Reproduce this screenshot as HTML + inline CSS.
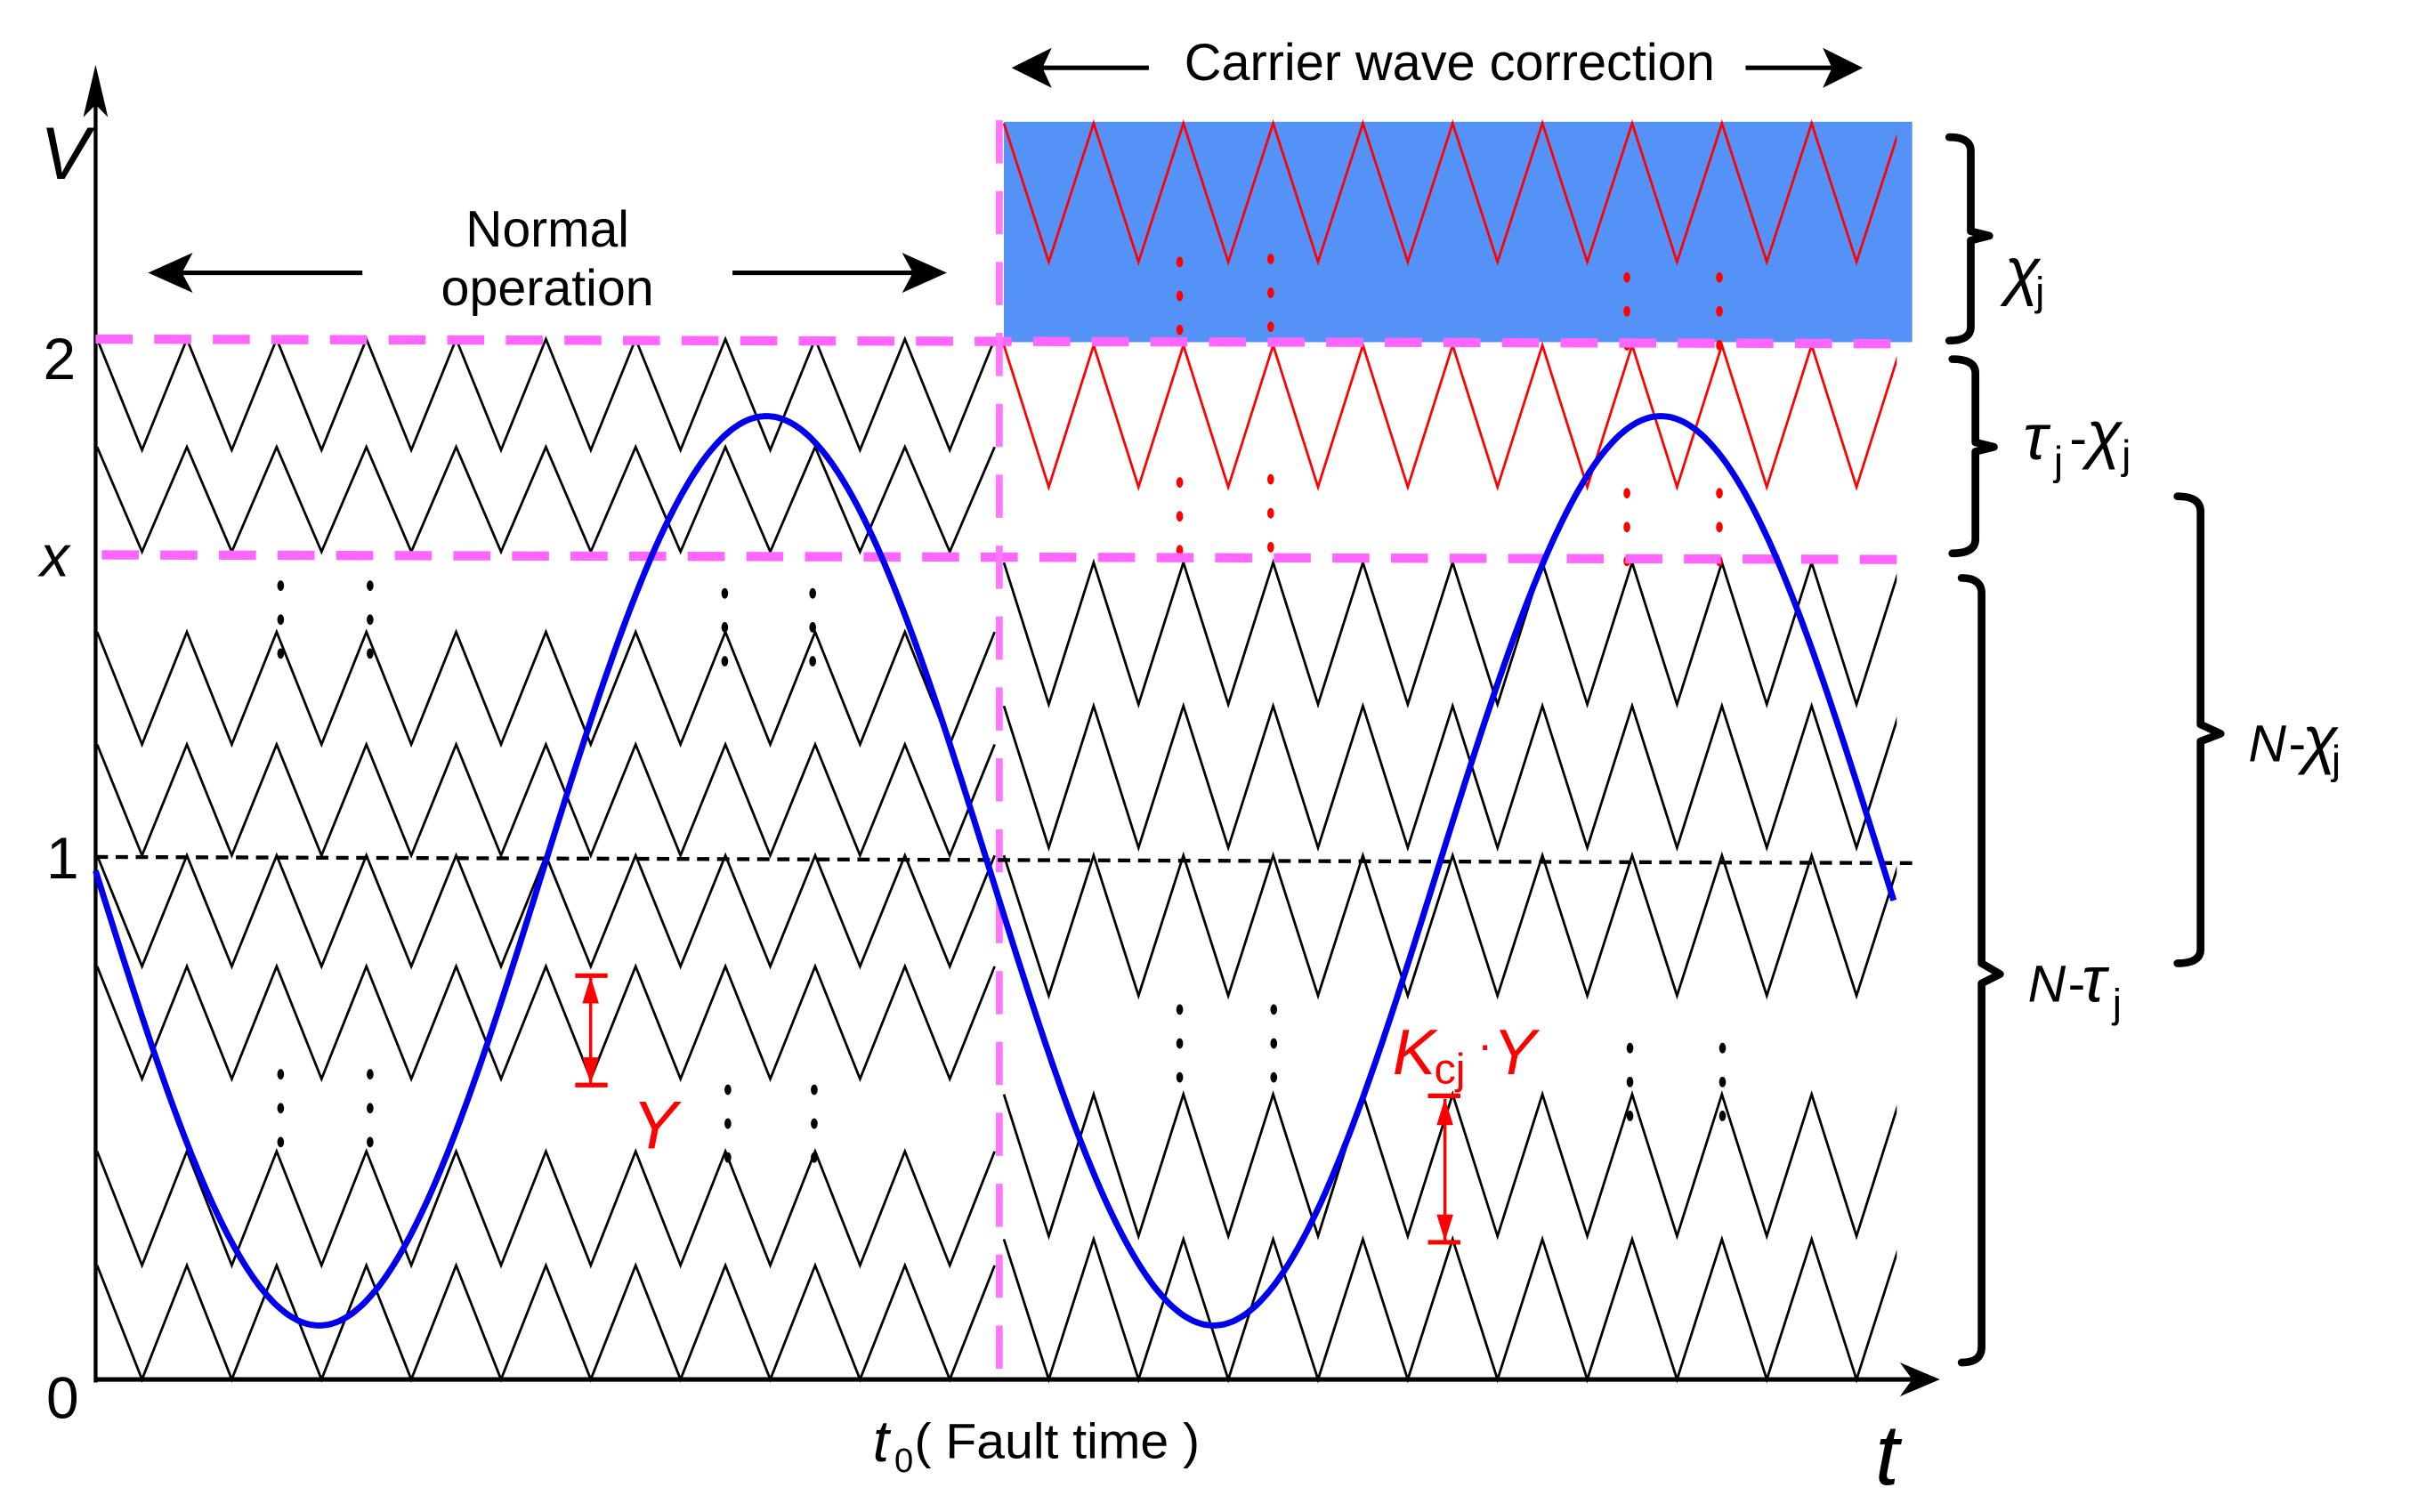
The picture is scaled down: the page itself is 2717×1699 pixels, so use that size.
<!DOCTYPE html>
<html><head><meta charset="utf-8">
<style>
html,body{margin:0;padding:0;background:#fff;}
svg{display:block;}
text{font-family:"Liberation Sans",sans-serif;}
</style></head>
<body>
<svg id="s" width="2717" height="1699" viewBox="0 0 1568 981" preserveAspectRatio="none" xmlns="http://www.w3.org/2000/svg">
<defs><clipPath id="cr"><rect x="640" y="0" width="590" height="981"/></clipPath></defs>
<rect x="0" y="0" width="1568" height="981" fill="#fff"/>
<rect x="651" y="79" width="589" height="143" fill="#5592f7"/>
<g id="waves" fill="none" stroke-width="1.6" stroke-linejoin="miter"></g>
<g id="wavesR" fill="none" stroke-width="1.6" stroke-linejoin="miter" clip-path="url(#cr)"></g>
<g id="dots"></g>
<line x1="62" y1="55" x2="62" y2="897" stroke="#000" stroke-width="2.5"/>
<polygon points="62,42 54,76 62,68 70,76" fill="#000"/>
<line x1="62" y1="895" x2="1245" y2="895" stroke="#000" stroke-width="3"/>
<polygon points="1258,895 1232,884 1240,895 1232,906" fill="#000"/>
<line x1="62" y1="220" x2="1240" y2="223" stroke="#ff66ff" stroke-width="6" stroke-dasharray="24,14"/>
<line x1="66" y1="360" x2="1240" y2="363" stroke="#ff66ff" stroke-width="6" stroke-dasharray="24,14"/>
<line x1="648" y1="78" x2="648" y2="895" stroke="#ff77ff" stroke-width="4.5" stroke-dasharray="28,18"/>
<line x1="62" y1="556" x2="1240" y2="560" stroke="#000" stroke-width="2.5" stroke-dasharray="8,5"/>
<path id="sine" fill="none" stroke="#0000ee" stroke-width="4"/>
<text x="26" y="116" font-size="48" font-style="italic">V</text>
<text x="28" y="246" font-size="38">2</text>
<text x="26" y="374" font-size="38" font-style="italic">x</text>
<text x="30" y="570" font-size="38">1</text>
<text x="30" y="920" font-size="38">0</text>
<text x="1216" y="963" font-size="56" font-style="italic">t</text>
<text x="566" y="948" font-size="38" font-style="italic">t</text>
<text x="580" y="955" font-size="22">0</text>
<text x="593" y="946" font-size="32" textLength="185" lengthAdjust="spacingAndGlyphs">( Fault time )</text>
<text x="355" y="160" font-size="33" text-anchor="middle" textLength="106" lengthAdjust="spacingAndGlyphs">Normal</text>
<text x="355" y="198" font-size="33" text-anchor="middle" textLength="138" lengthAdjust="spacingAndGlyphs">operation</text>
<line x1="110" y1="177" x2="235" y2="177" stroke="#000" stroke-width="3"/>
<polygon points="96,177 125,164 118,177 125,190" fill="#000"/>
<line x1="475" y1="177" x2="600" y2="177" stroke="#000" stroke-width="3"/>
<polygon points="614,177 585,164 592,177 585,190" fill="#000"/>
<text x="768" y="52" font-size="34" textLength="344" lengthAdjust="spacingAndGlyphs">Carrier wave correction</text>
<line x1="670" y1="44" x2="745" y2="44" stroke="#000" stroke-width="3"/>
<polygon points="656,44 682,31 676,44 682,57" fill="#000"/>
<line x1="1132" y1="44" x2="1195" y2="44" stroke="#000" stroke-width="3"/>
<polygon points="1208,44 1182,31 1188,44 1182,57" fill="#000"/>
<g stroke="#ff0000" stroke-width="2" fill="#ff0000">
<line x1="383" y1="634" x2="383" y2="703"/>
<line x1="373" y1="633" x2="394" y2="633" stroke-width="3"/>
<line x1="373" y1="704" x2="394" y2="704" stroke-width="3"/>
<polygon points="383,637 379,650 387,650"/>
<polygon points="383,700 379,687 387,687"/>
<line x1="937" y1="713" x2="937" y2="805"/>
<line x1="926" y1="711" x2="947" y2="711" stroke-width="3"/>
<line x1="926" y1="806" x2="947" y2="806" stroke-width="3"/>
<polygon points="937,716 933,729 941,729"/>
<polygon points="937,802 933,789 941,789"/>
</g>
<text x="410" y="745" font-size="44" font-style="italic" fill="#ff0000">Y</text>
<text x="903" y="697" font-size="42" font-style="italic" fill="#ff0000">K</text>
<text x="930" y="703" font-size="28" fill="#ff0000">cj</text>
<text x="958" y="688" font-size="30" fill="#ff0000">·</text>
<text x="968" y="697" font-size="42" font-style="italic" fill="#ff0000">Y</text>
<g fill="none" stroke="#000" stroke-width="5" stroke-linejoin="round" stroke-linecap="round">
<path d="M1264,89 Q1278,89 1278,98 L1278,150 L1290,153 L1278,156 L1278,212 Q1278,221 1264,221"/>
<path d="M1266,233 Q1281,233 1281,242 L1281,287 L1293,290 L1281,293 L1281,350 Q1281,359 1266,359"/>
<path d="M1272,375 Q1285,375 1285,385 L1285,625 L1297,632 L1285,638 L1285,874 Q1285,884 1272,884"/>
<path d="M1412,322 Q1427,322 1427,332 L1427,470 L1440,476 L1427,481 L1427,616 Q1427,625 1412,625"/>
</g>
<g font-family="Liberation Serif,serif" font-style="italic">
<text x="1300" y="190" font-size="42">χ</text>
<text x="1320" y="198" font-size="26" font-style="normal">j</text>
<text x="1312" y="298" font-size="42">τ</text>
<text x="1332" y="308" font-size="26" font-style="normal">j</text>
<text x="1342" y="296" font-size="34" font-style="normal">-</text>
<text x="1353" y="296" font-size="42">χ</text>
<text x="1376" y="304" font-size="26" font-style="normal">j</text>
<text x="1458" y="494" font-size="34" font-family="Liberation Sans,sans-serif">N</text>
<text x="1484" y="494" font-size="34" font-style="normal">-</text>
<text x="1493" y="494" font-size="42">χ</text>
<text x="1512" y="502" font-size="26" font-style="normal">j</text>
<text x="1315" y="650" font-size="34" font-family="Liberation Sans,sans-serif">N</text>
<text x="1341" y="650" font-size="34" font-style="normal">-</text>
<text x="1350" y="650" font-size="42">τ</text>
<text x="1370" y="660" font-size="26" font-style="normal">j</text>
</g>
</svg>
<script>
(function(){
var NS="http://www.w3.org/2000/svg";
var g=document.getElementById('waves');
var gR=document.getElementById('wavesR');
function row(tg,x0,x1,yp,yv,startPeak,col){
  var pts=[];var half=29.1;var x=x0;var peak=startPeak;
  while(x<=x1+0.1){pts.push(x.toFixed(1)+','+(peak?yp:yv));x+=half;peak=!peak;}
  var p=document.createElementNS(NS,'polyline');
  p.setAttribute('points',pts.join(' '));p.setAttribute('stroke',col);
  tg.appendChild(p);
}
var L=[[220,292],[290,358],[410,483],[483,555],[555,627],[627,700],[747,821],[821,895]];
L.forEach(function(r){row(g,63,645,r[0],r[1],true,'#000');});
var Rr=[[80,170],[224,316]];
Rr.forEach(function(r){row(gR,651,1240,r[0],r[1],true,'#ff0000');});
var Rb=[[365,457],[458,550],[555,646],[710,802],[804,895]];
Rb.forEach(function(r){row(gR,651,1240,r[0],r[1],true,'#000');});
var d=document.getElementById('dots');
function dots(x,ys,col){ys.forEach(function(y){var c=document.createElementNS(NS,'ellipse');c.setAttribute('cx',x);c.setAttribute('cy',y);c.setAttribute('rx',2.2);c.setAttribute('ry',3.4);c.setAttribute('fill',col);d.appendChild(c);});}
dots(182,[380,402,424],'#000');dots(240,[380,402,424],'#000');
dots(470,[385,407,429],'#000');dots(527,[385,407,429],'#000');
dots(182,[697,719,741],'#000');dots(240,[697,719,741],'#000');
dots(472,[707,729,751],'#000');dots(528,[707,729,751],'#000');
dots(765,[170,192,214],'#ff0000');dots(824,[168,190,212],'#ff0000');
dots(1055,[180,202,224],'#ff0000');dots(1115,[180,202,224],'#ff0000');
dots(765,[313,335,357],'#ff0000');dots(824,[311,333,355],'#ff0000');
dots(1055,[320,342,364],'#ff0000');dots(1115,[320,342,364],'#ff0000');
dots(765,[655,677,699],'#000');dots(826,[655,677,699],'#000');
dots(1057,[680,702,724],'#000');dots(1117,[680,702,724],'#000');
var s='';for(var x=62;x<=1229;x+=2){var y=565+295*Math.sin(2*Math.PI*(x-62)/580);s+=(x==62?'M':'L')+x+','+y.toFixed(1);}
document.getElementById('sine').setAttribute('d',s);
})();
</script>
</body></html>
